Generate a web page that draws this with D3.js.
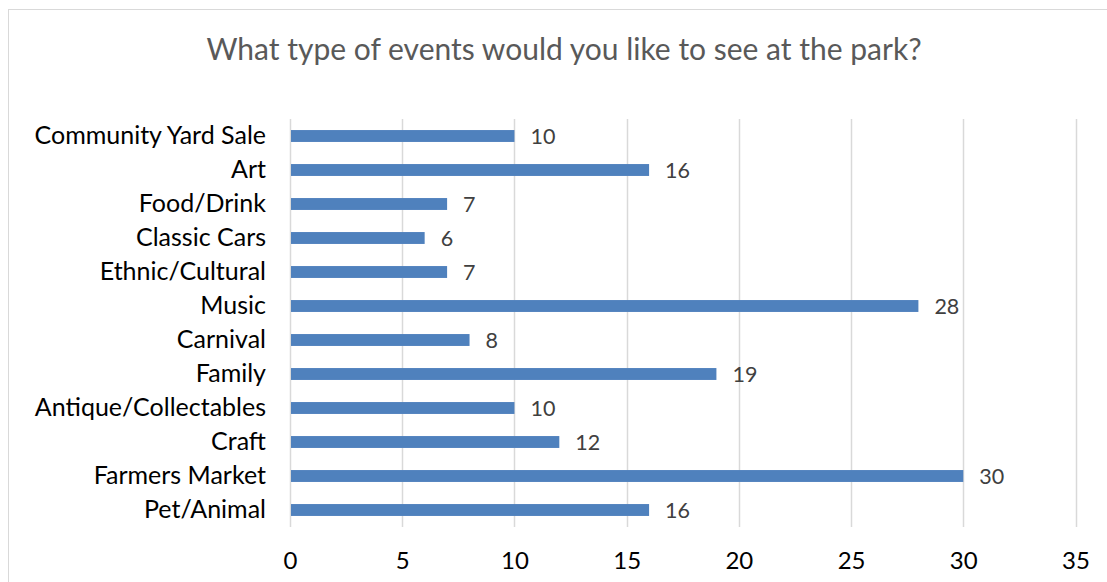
<!DOCTYPE html>
<html>
<head>
<meta charset="utf-8">
<script src="https://cdn.jsdelivr.net/npm/d3@7"></script>
<style>
  html, body { margin: 0; padding: 0; background: #fff; }
  svg { display: block; }
</style>
</head>
<body>
<svg id="chart" width="1107" height="582"></svg>
<script>
// Survey responses: preferred event types at the park
const categories = [
  "Community Yard Sale", "Art", "Food/Drink", "Classic Cars", "Ethnic/Cultural",
  "Music", "Carnival", "Family", "Antique/Collectables", "Craft",
  "Farmers Market", "Pet/Animal"
];
const counts = [10, 16, 7, 6, 7, 28, 8, 19, 10, 12, 30, 16];
const xTicks = [0, 5, 10, 15, 20, 25, 30, 35];
const title = "What type of events would you like to see at the park?";

const svg = d3.select("#chart");
const W = 1107, H = 582;
const font = "Lato, 'Open Sans', sans-serif";

// outer chart frame
svg.append("rect")
  .attr("x", 8.5).attr("y", 9.5)
  .attr("width", W + 20).attr("height", H + 20)
  .attr("fill", "#fff").attr("stroke", "#d9d9d9").attr("stroke-width", 1);

const plot = { left: 290, right: 1075.5, top: 119, bottom: 527 };

const x = d3.scaleLinear().domain([0, 35]).range([plot.left, plot.right]);
const y = d3.scaleBand().domain(categories)
  .range([plot.top, plot.bottom]).paddingInner(0.65).paddingOuter(0.325);

// vertical gridlines
svg.append("g")
  .selectAll("line").data(xTicks).join("line")
  .attr("x1", d => Math.round(x(d)) + 0.5).attr("x2", d => Math.round(x(d)) + 0.5)
  .attr("y1", plot.top).attr("y2", plot.bottom)
  .attr("stroke", "#d9d9d9").attr("stroke-width", 1.5);

// bars
svg.append("g")
  .selectAll("rect").data(categories).join("rect")
  .attr("x", x(0) + 1)
  .attr("y", d => y(d))
  .attr("width", (d, i) => x(counts[i]) - x(0) - 1)
  .attr("height", y.bandwidth())
  .attr("fill", "#4f81bd");

// value labels
svg.append("g")
  .selectAll("text").data(categories).join("text")
  .attr("x", (d, i) => x(counts[i]) + 16)
  .attr("y", d => y(d) + y.bandwidth() / 2)
  .attr("dy", "0.38em")
  .attr("font-family", font).attr("font-size", 21.5)
  .attr("fill", "#404040")
  .text((d, i) => counts[i]);

// category axis
const yAxis = d3.axisLeft(y).tickSize(0).tickPadding(24);
const gy = svg.append("g").attr("transform", `translate(${plot.left},0)`).call(yAxis);
gy.select(".domain").remove();
gy.selectAll("text")
  .attr("font-family", font).attr("font-size", 25)
  .attr("fill", "#000");

// value axis
const xAxis = d3.axisBottom(x).tickValues(xTicks).tickSize(0).tickPadding(25);
const gx = svg.append("g").attr("transform", `translate(0,${plot.bottom})`).call(xAxis);
gx.select(".domain").remove();
gx.selectAll("text")
  .attr("font-family", font).attr("font-size", 24)
  .attr("fill", "#000");

// title
svg.append("text")
  .attr("x", 564).attr("y", 60)
  .attr("text-anchor", "middle")
  .attr("font-family", font).attr("font-size", 30)
  .attr("fill", "#595959")
  .text(title);
</script>
</body>
</html>
